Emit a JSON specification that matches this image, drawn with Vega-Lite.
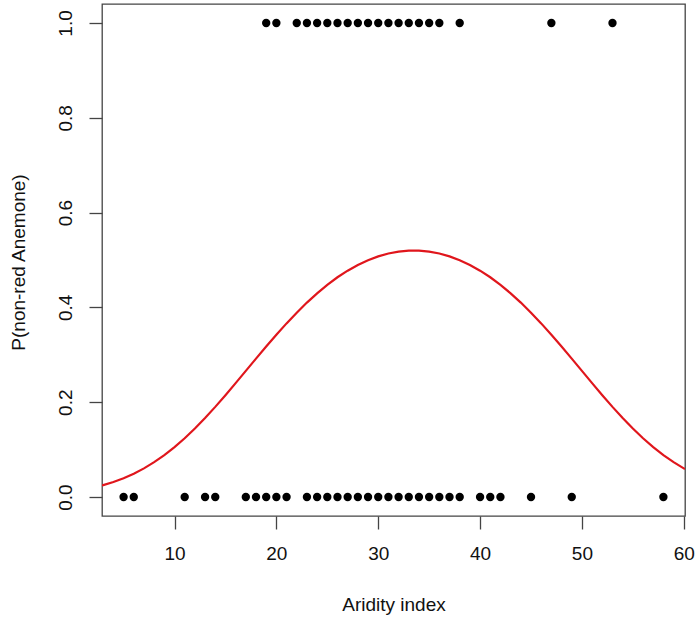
{
  "$schema": "https://vega.github.io/schema/vega-lite/v6.json",
  "autosize": {"type": "none"},
  "padding": {"left": 102, "top": 4, "right": 14, "bottom": 103},
  "width": 583,
  "height": 512,
  "background": "white",
  "config": {
    "view": {"stroke": "#444444", "strokeWidth": 1.3},
    "axis": {
      "grid": false,
      "domain": false,
      "tickColor": "#444444",
      "tickWidth": 1.3,
      "tickSize": 13,
      "labelFont": "Liberation Sans",
      "labelFontSize": 19,
      "labelColor": "#111111",
      "titleFont": "Liberation Sans",
      "titleFontSize": 19,
      "titleFontWeight": "normal",
      "titleColor": "#111111"
    }
  },
  "datasets": {
    "obs": [
      {"aridity": 19, "p": 1}, {"aridity": 20, "p": 1}, {"aridity": 22, "p": 1}, {"aridity": 23, "p": 1},
      {"aridity": 24, "p": 1}, {"aridity": 25, "p": 1}, {"aridity": 26, "p": 1}, {"aridity": 27, "p": 1},
      {"aridity": 28, "p": 1}, {"aridity": 29, "p": 1}, {"aridity": 30, "p": 1}, {"aridity": 31, "p": 1},
      {"aridity": 32, "p": 1}, {"aridity": 33, "p": 1}, {"aridity": 34, "p": 1}, {"aridity": 35, "p": 1},
      {"aridity": 36, "p": 1}, {"aridity": 38, "p": 1}, {"aridity": 47, "p": 1}, {"aridity": 53, "p": 1},
      {"aridity": 5, "p": 0}, {"aridity": 6, "p": 0}, {"aridity": 11, "p": 0}, {"aridity": 13, "p": 0},
      {"aridity": 14, "p": 0}, {"aridity": 17, "p": 0}, {"aridity": 18, "p": 0}, {"aridity": 19, "p": 0},
      {"aridity": 20, "p": 0}, {"aridity": 21, "p": 0}, {"aridity": 23, "p": 0}, {"aridity": 24, "p": 0},
      {"aridity": 25, "p": 0}, {"aridity": 26, "p": 0}, {"aridity": 27, "p": 0}, {"aridity": 28, "p": 0},
      {"aridity": 29, "p": 0}, {"aridity": 30, "p": 0}, {"aridity": 31, "p": 0}, {"aridity": 32, "p": 0},
      {"aridity": 33, "p": 0}, {"aridity": 34, "p": 0}, {"aridity": 35, "p": 0}, {"aridity": 36, "p": 0},
      {"aridity": 37, "p": 0}, {"aridity": 38, "p": 0}, {"aridity": 40, "p": 0}, {"aridity": 41, "p": 0},
      {"aridity": 42, "p": 0}, {"aridity": 45, "p": 0}, {"aridity": 49, "p": 0}, {"aridity": 58, "p": 0}
    ],
    "fit": [
      {"aridity": 2.88, "p": 0.0243}, {"aridity": 3, "p": 0.0251}, {"aridity": 4, "p": 0.0317},
      {"aridity": 5, "p": 0.0397}, {"aridity": 6, "p": 0.0493}, {"aridity": 7, "p": 0.0605},
      {"aridity": 8, "p": 0.0735}, {"aridity": 9, "p": 0.0884}, {"aridity": 10, "p": 0.1053},
      {"aridity": 11, "p": 0.124}, {"aridity": 12, "p": 0.1446}, {"aridity": 13, "p": 0.1667},
      {"aridity": 14, "p": 0.1902}, {"aridity": 15, "p": 0.2148}, {"aridity": 16, "p": 0.2403},
      {"aridity": 17, "p": 0.2662}, {"aridity": 18, "p": 0.292}, {"aridity": 19, "p": 0.3176},
      {"aridity": 20, "p": 0.3423}, {"aridity": 21, "p": 0.3663}, {"aridity": 22, "p": 0.3889},
      {"aridity": 23, "p": 0.4102}, {"aridity": 24, "p": 0.4297}, {"aridity": 25, "p": 0.4477},
      {"aridity": 26, "p": 0.4636}, {"aridity": 27, "p": 0.4775}, {"aridity": 28, "p": 0.4895},
      {"aridity": 29, "p": 0.4997}, {"aridity": 30, "p": 0.5077}, {"aridity": 31, "p": 0.5137},
      {"aridity": 32, "p": 0.5177}, {"aridity": 33, "p": 0.5197}, {"aridity": 34, "p": 0.5197},
      {"aridity": 35, "p": 0.5177}, {"aridity": 36, "p": 0.5137}, {"aridity": 37, "p": 0.5077},
      {"aridity": 38, "p": 0.4997}, {"aridity": 39, "p": 0.4895}, {"aridity": 40, "p": 0.4775},
      {"aridity": 41, "p": 0.4636}, {"aridity": 42, "p": 0.4477}, {"aridity": 43, "p": 0.4297},
      {"aridity": 44, "p": 0.4102}, {"aridity": 45, "p": 0.3889}, {"aridity": 46, "p": 0.3663},
      {"aridity": 47, "p": 0.3423}, {"aridity": 48, "p": 0.3176}, {"aridity": 49, "p": 0.292},
      {"aridity": 50, "p": 0.2662}, {"aridity": 51, "p": 0.2403}, {"aridity": 52, "p": 0.2148},
      {"aridity": 53, "p": 0.1902}, {"aridity": 54, "p": 0.1667}, {"aridity": 55, "p": 0.1446},
      {"aridity": 56, "p": 0.124}, {"aridity": 57, "p": 0.1053}, {"aridity": 58, "p": 0.0884},
      {"aridity": 59, "p": 0.0735}, {"aridity": 60, "p": 0.0605}, {"aridity": 60.12, "p": 0.059}
    ]
  },
  "layer": [
    {
      "data": {"name": "obs"},
      "mark": {"type": "point", "filled": true, "color": "black", "size": 70, "opacity": 1},
      "encoding": {
        "x": {
          "field": "aridity", "type": "quantitative",
          "scale": {"domain": [2.88, 60.12], "nice": false, "zero": false},
          "axis": {
            "title": "Aridity index", "values": [10, 20, 30, 40, 50, 60],
            "labelPadding": 15, "titleX": 291.5, "titleY": 88, "titleBaseline": "middle"
          }
        },
        "y": {
          "field": "p", "type": "quantitative",
          "scale": {"domain": [-0.04, 1.04], "nice": false, "zero": false},
          "axis": {
            "title": "P(non-red Anemone)", "values": [0, 0.2, 0.4, 0.6, 0.8, 1.0],
            "format": ".1f", "labelAngle": -90, "labelAlign": "center", "labelBaseline": "bottom",
            "labelPadding": 14, "titleX": -84, "titleY": 258, "titleAngle": -90,
            "titleAlign": "center", "titleBaseline": "middle"
          }
        }
      }
    },
    {
      "data": {"name": "fit"},
      "mark": {"type": "line", "color": "#e0161c", "strokeWidth": 2.2, "clip": true},
      "encoding": {
        "x": {"field": "aridity", "type": "quantitative"},
        "y": {"field": "p", "type": "quantitative"}
      }
    }
  ]
}
